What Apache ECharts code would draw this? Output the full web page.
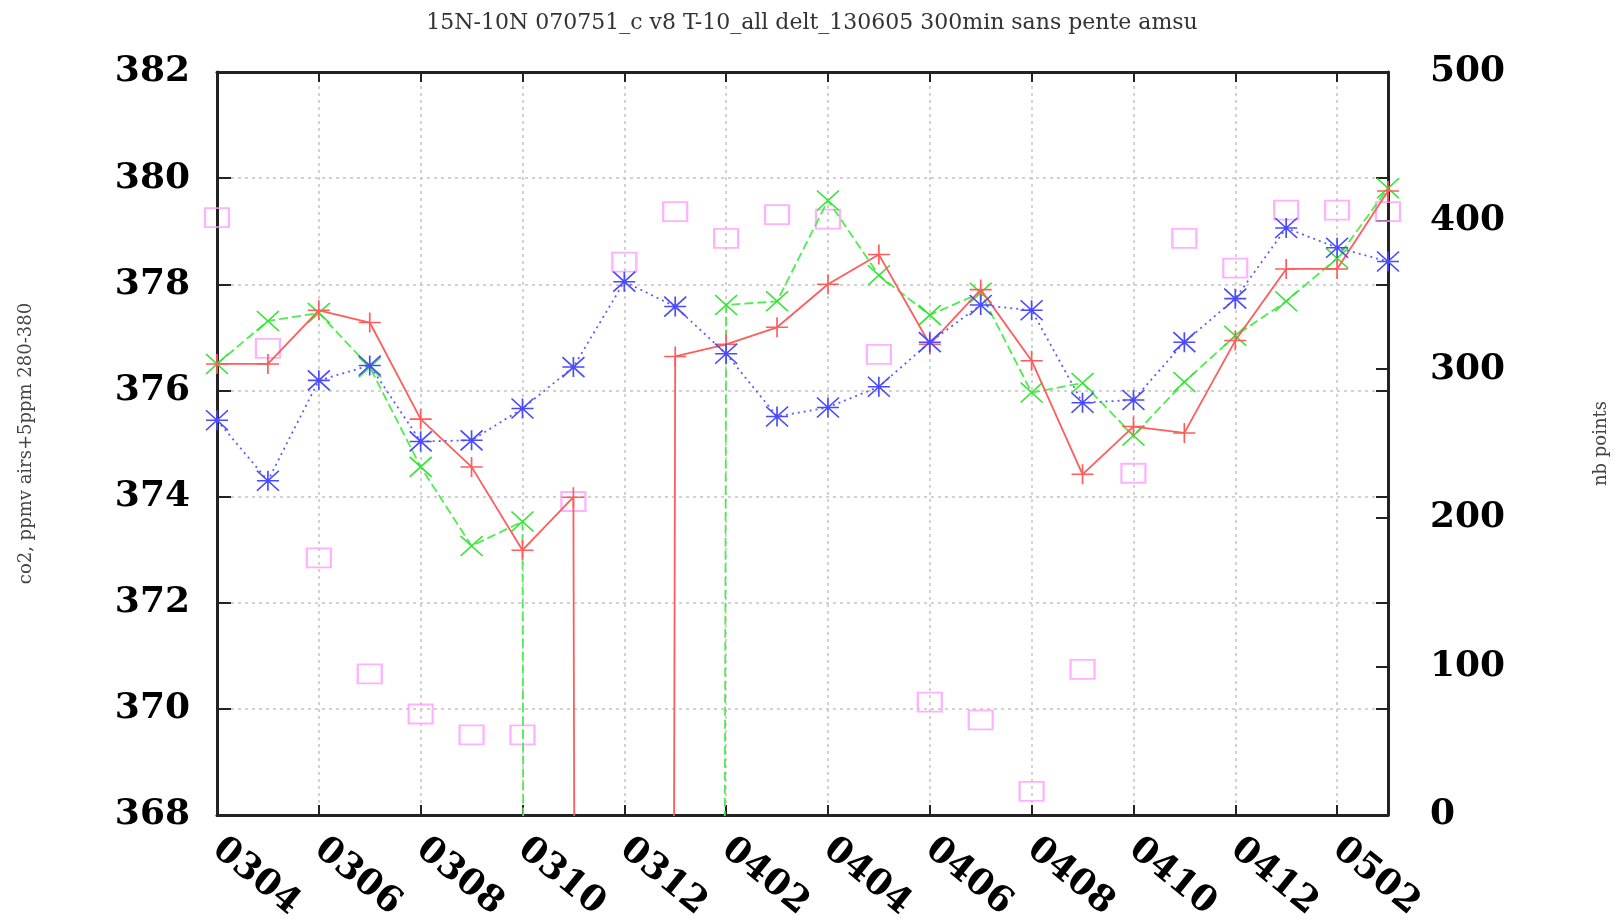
<!DOCTYPE html>
<html>
<head>
<meta charset="utf-8">
<script src="https://cdn.jsdelivr.net/npm/echarts@6/dist/echarts.min.js"></script>
<style>
  html, body { margin: 0; padding: 0; background: #fff; }
  #chart { width: 1624px; height: 924px; }
</style>
</head>
<body>
<div id="chart"></div>
<script>
// Months (yymm)
var categories = ['0304','0305','0306','0307','0308','0309','0310','0311','0312','0401','0402','0403',
                  '0404','0405','0406','0407','0408','0409','0410','0411','0412','0501','0502','0503'];
// co2 series (left axis); 0 = missing month (drawn off the bottom of the plot, as in the original)
var redSeries   = [376.50, 376.50, 377.51, 377.28, 375.46, 374.56, 372.99, 373.99, 0, 376.64, 376.87, 377.19,
                   378.00, 378.56, 376.87, 377.90, 376.56, 374.42, 375.32, 375.20, 376.94, 378.29, 378.29, 379.76];
var greenSeries = [376.50, 377.31, 377.46, 376.44, 374.56, 373.07, 373.53, 0, 0, 0, 377.61, 377.68,
                   379.58, 378.17, 377.42, 377.84, 375.96, 376.14, 375.15, 376.16, 377.03, 377.68, 378.49, 379.81];
var blueSeries  = [375.44, 374.30, 376.19, 376.47, 375.04, 375.06, 375.66, 376.44, 378.05, 377.58, 376.69, 375.51,
                   375.68, 376.07, 376.91, 377.61, 377.51, 375.77, 375.82, 376.91, 377.73, 379.06, 378.69, 378.43];
// nb points (right axis)
var nbPoints    = [402, 314, 173, 95, 68, 54, 54, 211, 372, 406, 388, 404,
                   401, 310, 76, 64, 16, 98, 230, 388, 368, 407, 407, 406];

var titleText = '15N-10N 070751_c v8 T-10_all delt_130605 300min sans pente amsu';
var leftName = 'co2, ppmv airs+5ppm 280-380';
var rightName = 'nb points';

var plusPath  = 'path://M5 0L5 10M0 5L10 5';
var crossPath = 'path://M0 0L10 10M10 0L0 10';
var starPath  = 'path://M5 0L5 10M0 5L10 5M0 0L10 10M10 0L0 10';

var tickFont = { fontFamily: 'DejaVu Serif', fontWeight: 'bold', fontSize: 36, color: '#000' };
var frameLine = { show: true, lineStyle: { color: '#222', width: 3 } };

var chart = echarts.init(document.getElementById('chart'), null, { renderer: 'canvas' });
chart.setOption({
  backgroundColor: '#ffffff',
  animation: false,
  title: {
    text: titleText,
    left: 'center',
    top: 7,
    textStyle: { fontFamily: 'DejaVu Serif', fontWeight: 'normal', fontSize: 22, color: '#333' }
  },
  grid: { left: 217, right: 236, top: 72, bottom: 94, containLabel: false },
  xAxis: [
    {
      type: 'category', data: categories, boundaryGap: false, position: 'bottom',
      axisLine: frameLine,
      axisTick: { show: true, inside: true, length: 10, interval: 1, lineStyle: { color: '#222', width: 2 } },
      axisLabel: Object.assign({ interval: 1, rotate: -39, margin: 30 }, tickFont),
      splitLine: { show: true, interval: 1, lineStyle: { color: '#c4c4c4', width: 1.5, type: [3, 4] } }
    },
    {
      type: 'category', data: categories, boundaryGap: false, position: 'top',
      axisLine: frameLine,
      axisTick: { show: true, inside: true, length: 10, interval: 1, lineStyle: { color: '#222', width: 2 } },
      axisLabel: { show: false },
      splitLine: { show: false }
    }
  ],
  yAxis: [
    {
      type: 'value', min: 368, max: 382, interval: 2, position: 'left',
      name: leftName, nameLocation: 'middle', nameRotate: 90, nameGap: 182,
      nameTextStyle: { fontFamily: 'DejaVu Serif', fontSize: 18, color: '#444' },
      axisLine: frameLine,
      axisTick: { show: true, inside: true, length: 14, lineStyle: { color: '#222', width: 2 } },
      axisLabel: Object.assign({ margin: 27 }, tickFont),
      splitLine: { show: true, lineStyle: { color: '#c4c4c4', width: 1.5, type: [3, 4] } }
    },
    {
      type: 'value', min: 0, max: 500, interval: 100, position: 'right',
      name: rightName, nameLocation: 'middle', nameRotate: 90, nameGap: 204,
      nameTextStyle: { fontFamily: 'DejaVu Serif', fontSize: 18, color: '#444' },
      axisLine: frameLine,
      axisTick: { show: true, inside: true, length: 12, lineStyle: { color: '#222', width: 2 } },
      axisLabel: Object.assign({ margin: 42 }, tickFont),
      splitLine: { show: false }
    },
    {
      type: 'value', min: 368, max: 382, interval: 2, position: 'right',
      axisLine: { show: false },
      axisTick: { show: true, inside: true, length: 12, lineStyle: { color: '#222', width: 2 } },
      axisLabel: { show: false },
      splitLine: { show: false }
    }
  ],
  series: [
    {
      name: 'red', type: 'line', xAxisIndex: 0, yAxisIndex: 0, data: redSeries,
      clip: true, showAllSymbol: true, symbol: plusPath, symbolSize: [22, 20],
      itemStyle: { color: '#ff5c5c', borderColor: '#ff5c5c', borderWidth: 1.6 },
      lineStyle: { color: '#ff5c5c', width: 1.8, type: 'solid' },
      z: 4
    },
    {
      name: 'green', type: 'line', xAxisIndex: 0, yAxisIndex: 0, data: greenSeries,
      clip: true, showAllSymbol: true, symbol: crossPath, symbolSize: [22, 20],
      itemStyle: { color: '#33e633', borderColor: '#33e633', borderWidth: 1.6 },
      lineStyle: { color: '#4ced4c', width: 1.8, type: [9, 4] },
      z: 3
    },
    {
      name: 'blue', type: 'line', xAxisIndex: 0, yAxisIndex: 0, data: blueSeries,
      clip: true, showAllSymbol: true, symbol: starPath, symbolSize: [22, 20],
      itemStyle: { color: '#4a4aff', borderColor: '#4a4aff', borderWidth: 1.6 },
      lineStyle: { color: '#5c5cff', width: 1.8, type: [2, 4] },
      z: 5
    },
    {
      name: 'nb points', type: 'scatter', xAxisIndex: 0, yAxisIndex: 1, data: nbPoints,
      symbol: 'rect', symbolSize: [24, 19],
      itemStyle: { color: 'rgba(255,255,255,0)', borderColor: '#ff9cff', borderWidth: 2 },
      z: 2
    }
  ]
});
</script>
</body>
</html>
